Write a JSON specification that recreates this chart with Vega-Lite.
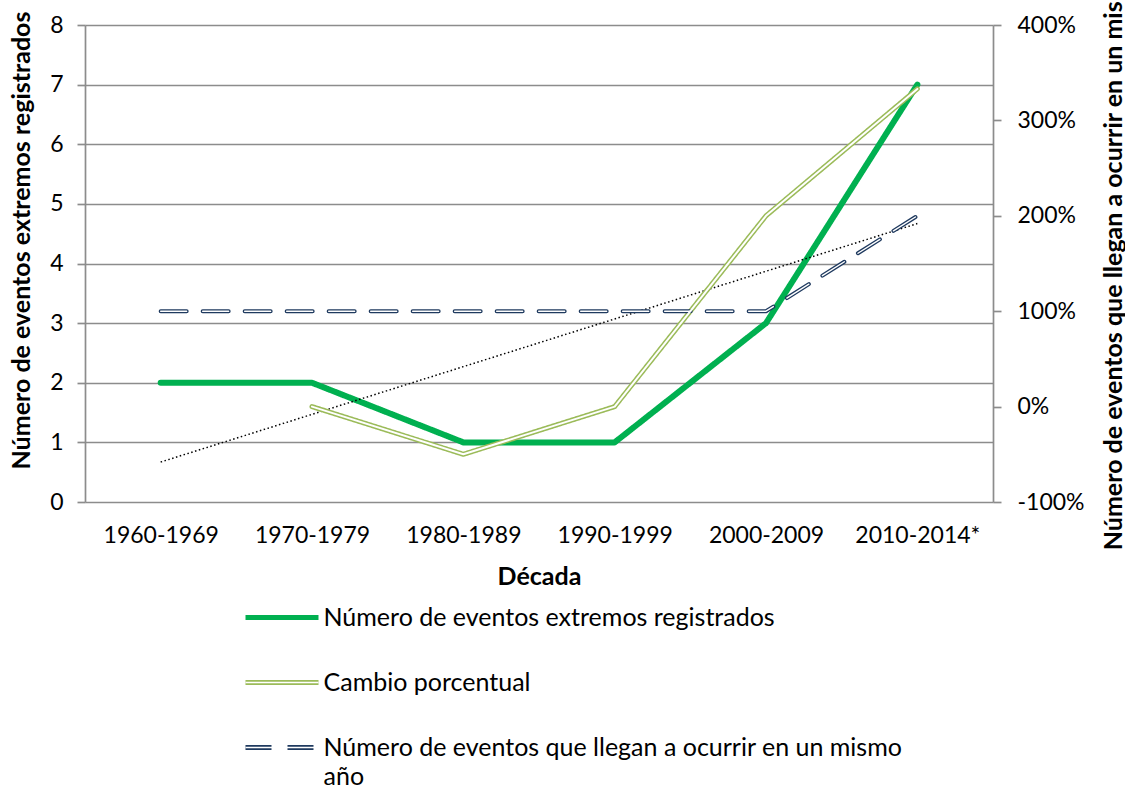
{
  "$schema": "https://vega.github.io/schema/vega-lite/v6.json",
  "width": 908,
  "height": 477,
  "autosize": {"type": "none"},
  "padding": {"left": 85, "top": 25, "right": 132, "bottom": 284},
  "background": "white",
  "config": {
    "font": "Lato",
    "view": {"stroke": null},
    "style": {"guide-label": {"lineHeight": 29}},
    "axis": {
      "labelFont": "Lato", "labelFontSize": 23, "labelColor": "black",
      "titleFont": "Lato", "titleFontSize": 25, "titleFontWeight": "bold", "titleColor": "black",
      "domainColor": "#8c8c8c", "domainWidth": 1.7,
      "tickColor": "#8c8c8c", "tickWidth": 1.7, "tickSize": 8,
      "gridColor": "#8c8c8c", "gridWidth": 1.7
    },
    "legend": {"labelFont": "Lato", "labelFontSize": 25, "labelColor": "black"}
  },
  "datasets": {
    "izquierda": [
      {"decada": "1960-1969", "serie": "Número de eventos extremos registrados", "valor": 2},
      {"decada": "1970-1979", "serie": "Número de eventos extremos registrados", "valor": 2},
      {"decada": "1980-1989", "serie": "Número de eventos extremos registrados", "valor": 1},
      {"decada": "1990-1999", "serie": "Número de eventos extremos registrados", "valor": 1},
      {"decada": "2000-2009", "serie": "Número de eventos extremos registrados", "valor": 3},
      {"decada": "2010-2014*", "serie": "Número de eventos extremos registrados", "valor": 7}
    ],
    "tendencia": [
      {"decada": "1960-1969", "valor": 0.67},
      {"decada": "1970-1979", "valor": 1.47},
      {"decada": "1980-1989", "valor": 2.27},
      {"decada": "1990-1999", "valor": 3.07},
      {"decada": "2000-2009", "valor": 3.87},
      {"decada": "2010-2014*", "valor": 4.67}
    ],
    "cambio": [
      {"decada": "1970-1979", "serie": "Cambio porcentual", "valor": 0},
      {"decada": "1980-1989", "serie": "Cambio porcentual", "valor": -0.5},
      {"decada": "1990-1999", "serie": "Cambio porcentual", "valor": 0},
      {"decada": "2000-2009", "serie": "Cambio porcentual", "valor": 2},
      {"decada": "2010-2014*", "serie": "Cambio porcentual", "valor": 3.33}
    ],
    "mismo": [
      {"decada": "1960-1969", "serie": "Número de eventos que llegan a ocurrir en un mismo año", "valor": 1},
      {"decada": "1970-1979", "serie": "Número de eventos que llegan a ocurrir en un mismo año", "valor": 1},
      {"decada": "1980-1989", "serie": "Número de eventos que llegan a ocurrir en un mismo año", "valor": 1},
      {"decada": "1990-1999", "serie": "Número de eventos que llegan a ocurrir en un mismo año", "valor": 1},
      {"decada": "2000-2009", "serie": "Número de eventos que llegan a ocurrir en un mismo año", "valor": 1},
      {"decada": "2010-2014*", "serie": "Número de eventos que llegan a ocurrir en un mismo año", "valor": 2}
    ]
  },
  "encoding": {
    "x": {
      "field": "decada", "type": "nominal",
      "scale": {"type": "point", "padding": 0.5},
      "axis": {"title": "Década", "labelAngle": 0, "ticks": false, "domain": false, "grid": false, "labelPadding": 22, "titlePadding": 17}
    }
  },
  "layer": [
    {
      "encoding": {
        "y": {
          "field": "valor", "type": "quantitative",
          "scale": {"domain": [0, 8], "nice": false, "zero": true},
          "axis": {
            "orient": "left", "values": [0, 1, 2, 3, 4, 5, 6, 7, 8], "grid": true,
            "labelPadding": 14,
            "title": "Número de eventos extremos registrados",
            "titleAngle": 270, "titleX": -56, "titleY": 215, "titleAlign": "center", "titleBaseline": "alphabetic", "titleLimit": 2000
          }
        }
      },
      "layer": [
        {
          "data": {"name": "izquierda"},
          "mark": {"type": "line", "strokeWidth": 6, "strokeCap": "round", "strokeJoin": "round"},
          "encoding": {
            "stroke": {
              "field": "serie", "type": "nominal",
              "scale": {
                "domain": ["Número de eventos extremos registrados", "Cambio porcentual", "Número de eventos que llegan a ocurrir en un mismo año"],
                "range": ["#00B050", "#9BBB59", "#1F3A5F"]
              },
              "legend": {
                "title": null, "orient": "none", "legendX": 184.5, "legendY": 580, "direction": "vertical", "padding": 0,
                "symbolType": "M-4.5625,0H4.5625", "symbolSize": 256, "symbolStrokeWidth": 5,
                "labelOffset": 29, "rowPadding": 39, "labelLimit": 1000, "zindex": 1,
                "labelExpr": "datum.label == 'Número de eventos que llegan a ocurrir en un mismo año' ? ['Número de eventos que llegan a ocurrir en un mismo', 'año'] : datum.label"
              }
            },
            "strokeDash": {
              "field": "serie", "type": "nominal",
              "scale": {
                "domain": ["Número de eventos extremos registrados", "Cambio porcentual", "Número de eventos que llegan a ocurrir en un mismo año"],
                "range": [[1, 0], [1, 0], [26, 16]]
              }
            }
          }
        },
        {
          "data": {"name": "tendencia"},
          "mark": {"type": "line", "stroke": "black", "strokeWidth": 1.5, "strokeDash": [1.5, 2.5]}
        }
      ]
    },
    {
      "encoding": {
        "y": {
          "field": "valor", "type": "quantitative",
          "scale": {"domain": [-1, 4], "nice": false, "zero": false},
          "axis": {
            "orient": "right", "values": [-1, 0, 1, 2, 3, 4], "grid": false,
            "labelPadding": 16,
            "labelExpr": "(datum.value < 0 ? '-' : '') + format(abs(datum.value), '.0%')",
            "title": "Número de eventos que llegan a ocurrir en un mismo año",
            "titleAngle": 270, "titleX": 128, "titleY": 209, "titleAlign": "center", "titleBaseline": "alphabetic", "titleLimit": 2000
          }
        }
      },
      "layer": [
        {
          "data": {"name": "cambio"},
          "mark": {"type": "line", "strokeWidth": 5, "strokeCap": "round", "strokeJoin": "round"},
          "encoding": {
            "stroke": {
              "field": "serie", "type": "nominal",
              "scale": {
                "domain": ["Número de eventos extremos registrados", "Cambio porcentual", "Número de eventos que llegan a ocurrir en un mismo año"],
                "range": ["#00B050", "#9BBB59", "#1F3A5F"]
              }
            },
            "strokeDash": {
              "field": "serie", "type": "nominal",
              "scale": {
                "domain": ["Número de eventos extremos registrados", "Cambio porcentual", "Número de eventos que llegan a ocurrir en un mismo año"],
                "range": [[1, 0], [1, 0], [26, 16]]
              }
            }
          }
        },
        {
          "data": {"name": "mismo"},
          "mark": {"type": "line", "strokeWidth": 4, "strokeCap": "round", "strokeJoin": "round"},
          "encoding": {
            "stroke": {
              "field": "serie", "type": "nominal",
              "scale": {
                "domain": ["Número de eventos extremos registrados", "Cambio porcentual", "Número de eventos que llegan a ocurrir en un mismo año"],
                "range": ["#00B050", "#9BBB59", "#1F3A5F"]
              }
            },
            "strokeDash": {
              "field": "serie", "type": "nominal",
              "scale": {
                "domain": ["Número de eventos extremos registrados", "Cambio porcentual", "Número de eventos que llegan a ocurrir en un mismo año"],
                "range": [[1, 0], [1, 0], [26, 16]]
              }
            }
          }
        },
        {
          "data": {"name": "cambio"},
          "mark": {"type": "line", "stroke": "white", "strokeWidth": 2, "strokeCap": "round", "strokeJoin": "round"},
          "encoding": {
            "opacity": {
              "field": "serie", "type": "nominal",
              "scale": {
                "type": "ordinal",
                "domain": ["Número de eventos extremos registrados", "Cambio porcentual", "Número de eventos que llegan a ocurrir en un mismo año", "-"],
                "range": [0, 1, 1, 0]
              },
              "legend": {
                "title": null, "orient": "none", "legendX": 184.5, "legendY": 580, "direction": "vertical", "padding": 0,
                "symbolType": "M-4.5625,0H4.5625", "symbolSize": 256, "symbolStrokeWidth": 1.5, "symbolStrokeColor": "white",
                "labelOffset": 29, "rowPadding": 39, "labelLimit": 1000, "labelOpacity": 0, "zindex": 2,
                "values": ["Número de eventos extremos registrados", "Cambio porcentual", "Número de eventos que llegan a ocurrir en un mismo año"],
                "labelExpr": "datum.label == 'Número de eventos que llegan a ocurrir en un mismo año' ? [' ', ' '] : ' '"
              }
            }
          }
        },
        {
          "data": {"name": "mismo"},
          "mark": {"type": "line", "stroke": "white", "strokeWidth": 1.4, "strokeCap": "round", "strokeJoin": "round", "strokeDash": [26, 16]},
          "encoding": {
            "opacity": {
              "field": "serie", "type": "nominal",
              "scale": {
                "type": "ordinal",
                "domain": ["Número de eventos extremos registrados", "Cambio porcentual", "Número de eventos que llegan a ocurrir en un mismo año", "-"],
                "range": [0, 1, 1, 0]
              }
            }
          }
        }
      ]
    }
  ],
  "resolve": {"scale": {"y": "independent"}}
}
